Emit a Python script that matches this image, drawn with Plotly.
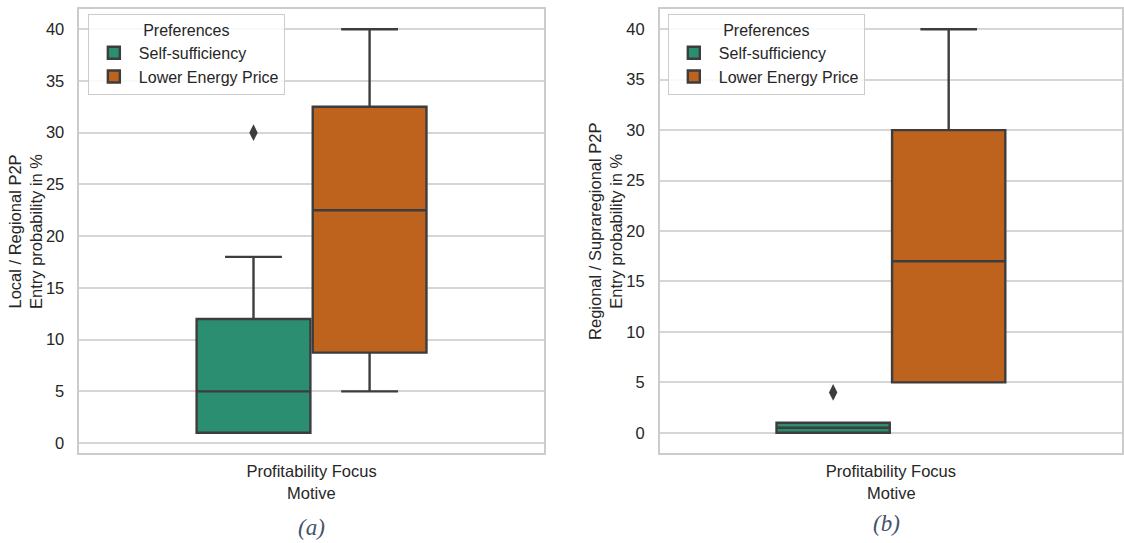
import plotly.graph_objects as go

# Grouping of boxes within the single motive category
motive = "Profitability Focus"
preferences = ["Self-sufficiency", "Lower Energy Price"]
colors = ["#2b8e70", "#be631d"]

# (a) Local / Regional P2P entry probability (%)
a_q1 = [1, 8.75]
a_median = [5, 22.5]
a_q3 = [12, 32.5]
a_lower = [1, 5]
a_upper = [18, 40]
a_outliers = [[30], []]

# (b) Regional / Supraregional P2P entry probability (%)
b_q1 = [0, 5]
b_median = [0.5, 17]
b_q3 = [1, 30]
b_lower = [0, 5]
b_upper = [1, 40]
b_outliers = [[4], []]

y_ticks = [0, 5, 10, 15, 20, 25, 30, 35, 40]

W, H = 1124, 543
TEXT = "#262626"
EDGE = "#3d3d3d"
GRID = "#d6d6d6"
FONT = "Liberation Sans, Arial, sans-serif"
FS = 16.5

fig = go.Figure()

panels = [
    dict(q1=a_q1, med=a_median, q3=a_q3, lo=a_lower, hi=a_upper, out=a_outliers,
         xa="x", ya="y", legend="legend"),
    dict(q1=b_q1, med=b_median, q3=b_q3, lo=b_lower, hi=b_upper, out=b_outliers,
         xa="x2", ya="y2", legend="legend2"),
]

box_w = 0.5 / len(preferences) * 0.98  # dodged box width
for p in panels:
    for i, pref in enumerate(preferences):
        pos = (i - (len(preferences) - 1) / 2) * 0.25
        fig.add_trace(go.Box(
            x=[pos], q1=[p["q1"][i]], median=[p["med"][i]], q3=[p["q3"][i]],
            lowerfence=[p["lo"][i]], upperfence=[p["hi"][i]],
            width=box_w, whiskerwidth=0.5, boxpoints=False,
            fillcolor=colors[i], line=dict(color=EDGE, width=2.4),
            name=pref, xaxis=p["xa"], yaxis=p["ya"], legend=p["legend"],
        ))
        if p["out"][i]:
            fig.add_trace(go.Scatter(
                x=[pos] * len(p["out"][i]), y=p["out"][i], mode="markers",
                marker=dict(symbol="diamond-tall", size=12, color=EDGE,
                            line=dict(width=0)),
                showlegend=False, xaxis=p["xa"], yaxis=p["ya"],
            ))

y_dom = [(H - 453) / H, (H - 9) / H]
x1_dom = [79.5 / W, 544.7 / W]
x2_dom = [661 / W, 1.0]

axis_common = dict(showline=True, mirror=True, linecolor="#cccccc", linewidth=1.6,
                   zeroline=False, ticks="", tickfont=dict(size=FS, color=TEXT))

xcommon = dict(axis_common, range=[-0.5, 0.5], tickvals=[0], ticktext=[motive],
               showgrid=False, ticklabelstandoff=2)
ycommon = dict(axis_common, tickvals=y_ticks, showgrid=True, gridcolor=GRID,
               gridwidth=1.5, ticklabelstandoff=10)

legend_common = dict(
    xanchor="left", yanchor="top", bgcolor="rgba(255,255,255,0.85)",
    bordercolor="#cccccc", borderwidth=1, font=dict(size=16, color=TEXT),
    title=dict(text="Preferences", side="top center", font=dict(size=16, color=TEXT)),
    itemwidth=40, tracegroupgap=0,
)

fig.update_layout(
    width=W, height=H,
    margin=dict(l=0, r=0, t=0, b=0),
    paper_bgcolor="white", plot_bgcolor="white",
    font=dict(family=FONT, color=TEXT, size=FS),
    showlegend=True,
    xaxis=dict(xcommon, domain=x1_dom, anchor="y"),
    yaxis=dict(ycommon, domain=y_dom, anchor="x", range=[-0.95, 41.95]),
    xaxis2=dict(xcommon, domain=x2_dom, anchor="y2"),
    yaxis2=dict(ycommon, domain=y_dom, anchor="x2", range=[-2, 42]),
    legend=dict(legend_common, x=88 / W, y=(H - 14) / H),
    legend2=dict(legend_common, x=669 / W, y=(H - 14) / H),
)

annotations = [
    dict(text="Local / Regional P2P<br>Entry probability in %", x=25 / W, y=(H - 231) / H,
         textangle=-90),
    dict(text="Regional / Supraregional P2P<br>Entry probability in %",
         x=606 / W, y=(H - 231) / H, textangle=-90),
    dict(text="Motive", x=312 / W, y=(H - 493) / H),
    dict(text="Motive", x=893 / W, y=(H - 493) / H),
]
for a in annotations:
    fig.add_annotation(xref="paper", yref="paper", showarrow=False,
                       xanchor="center", yanchor="middle",
                       font=dict(size=FS, color=TEXT, family=FONT), **a)

for label, xc, yc in [("(a)", 312, 527), ("(b)", 888, 523)]:
    fig.add_annotation(text=f"<i>{label}</i>", xref="paper", yref="paper",
                       x=xc / W, y=(H - yc) / H, showarrow=False,
                       xanchor="center", yanchor="middle",
                       font=dict(size=23, color="#44546a",
                                 family="Liberation Serif, Times New Roman, serif"))

fig.write_html("out.html")
